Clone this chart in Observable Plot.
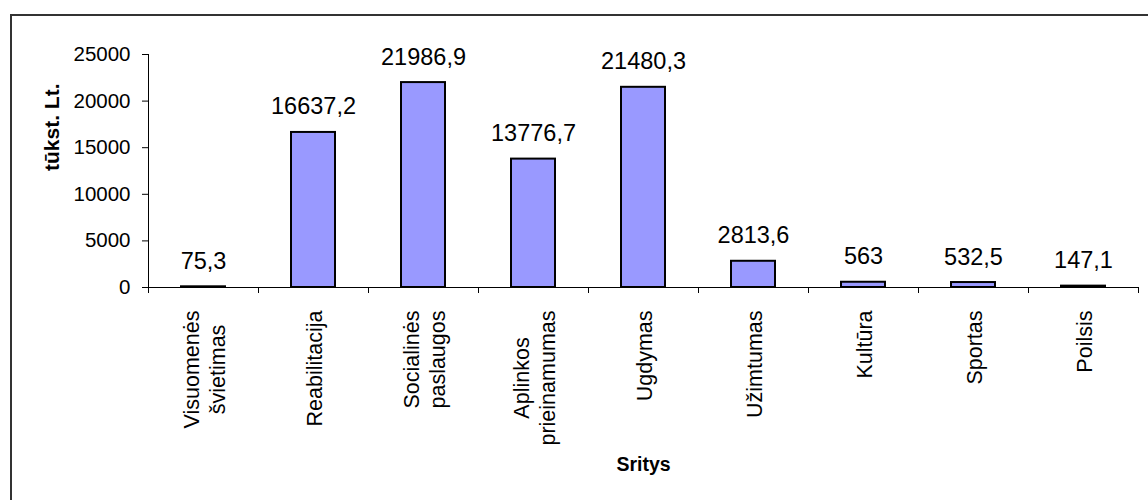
<!DOCTYPE html>
<html>
<head>
<meta charset="utf-8">
<script src="https://cdn.jsdelivr.net/npm/d3@7"></script>
<script src="https://cdn.jsdelivr.net/npm/@observablehq/plot@0.6"></script>
<style>
  html, body { margin: 0; padding: 0; background: #fff; overflow: hidden; }
  #wrap { position: relative; width: 1148px; height: 500px; }
  #frame { position: absolute; left: 10px; top: 14px; width: 2000px; height: 2000px;
           border-left: 2px solid #333; border-top: 2px solid #333; pointer-events: none; }
</style>
</head>
<body>
<div id="wrap"><div id="frame"></div></div>
<script>
const categories = ["Visuomenės\nšvietimas", "Reabilitacija", "Socialinės\npaslaugos", "Aplinkos\nprieinamumas", "Ugdymas", "Užimtumas", "Kultūra", "Sportas", "Poilsis"];
const values = [75.3, 16637.2, 21986.9, 13776.7, 21480.3, 2813.6, 563, 532.5, 147.1];
const yTicks = [0, 5000, 10000, 15000, 20000, 25000];
const yLabel = "tūkst. Lt.";
const xLabel = "Sritys";

const data = categories.map((c, i) => ({i, c, v: values[i]}));
const FONT = "'Liberation Sans', Arial, sans-serif";
const CAT_SIZE = 21.5;

const ctx = document.createElement("canvas").getContext("2d");
ctx.font = CAT_SIZE + "px " + FONT;
const maxW = s => Math.max(...s.split("\n").map(l => ctx.measureText(l).width));

const catMarks = data.map(d => Plot.text([d], {
  x: e => e.i + 0.5, y: () => 0, text: "c",
  rotate: -90, textAnchor: "middle", lineAnchor: "middle",
  lineHeight: 1.2, fontSize: CAT_SIZE, dy: 23 + maxW(d.c) / 2
}));

const chart = Plot.plot({
  width: 1148,
  height: 500,
  marginLeft: 148,
  marginRight: 10,
  marginTop: 54,
  marginBottom: 213,
  style: {fontFamily: FONT, fontSize: "20px", color: "black", background: "transparent", overflow: "visible"},
  x: {type: "linear", domain: [0, categories.length]},
  y: {domain: [0, 25000]},
  marks: [
    Plot.rectY(data, {x1: "i", x2: d => d.i + 1, y: "v", insetLeft: 33, insetRight: 33,
      fill: "#9999FF", stroke: "black", strokeWidth: 2}),
    Plot.ruleX([0], {stroke: "black", strokeWidth: 1}),
    Plot.ruleY([0], {stroke: "black", strokeWidth: 1}),
    Plot.axisY({ticks: yTicks, tickSize: 6, tickPadding: 12, tickFormat: d3.format("d"), fontSize: 20.5, label: null}),
    Plot.axisX({ticks: d3.range(categories.length + 1), tickSize: 6, tickFormat: () => "", label: null}),
    Plot.text(data, {x: d => d.i + 0.5, y: "v", text: d => String(d.v).replace(".", ","),
      lineAnchor: "bottom", dy: -18, fontSize: 23.5}),
    ...catMarks,
    Plot.text([yLabel], {frameAnchor: "left", text: d => d, rotate: -90, dx: -96,
      lineAnchor: "middle", fontWeight: "bold", fontSize: 21}),
    Plot.text([xLabel], {frameAnchor: "bottom", text: d => d, dy: 183,
      lineAnchor: "bottom", fontWeight: "bold", fontSize: 19.5})
  ]
});
chart.style.position = "absolute";
chart.style.left = "0px";
chart.style.top = "0px";
document.getElementById("wrap").prepend(chart);
</script>
</body>
</html>
